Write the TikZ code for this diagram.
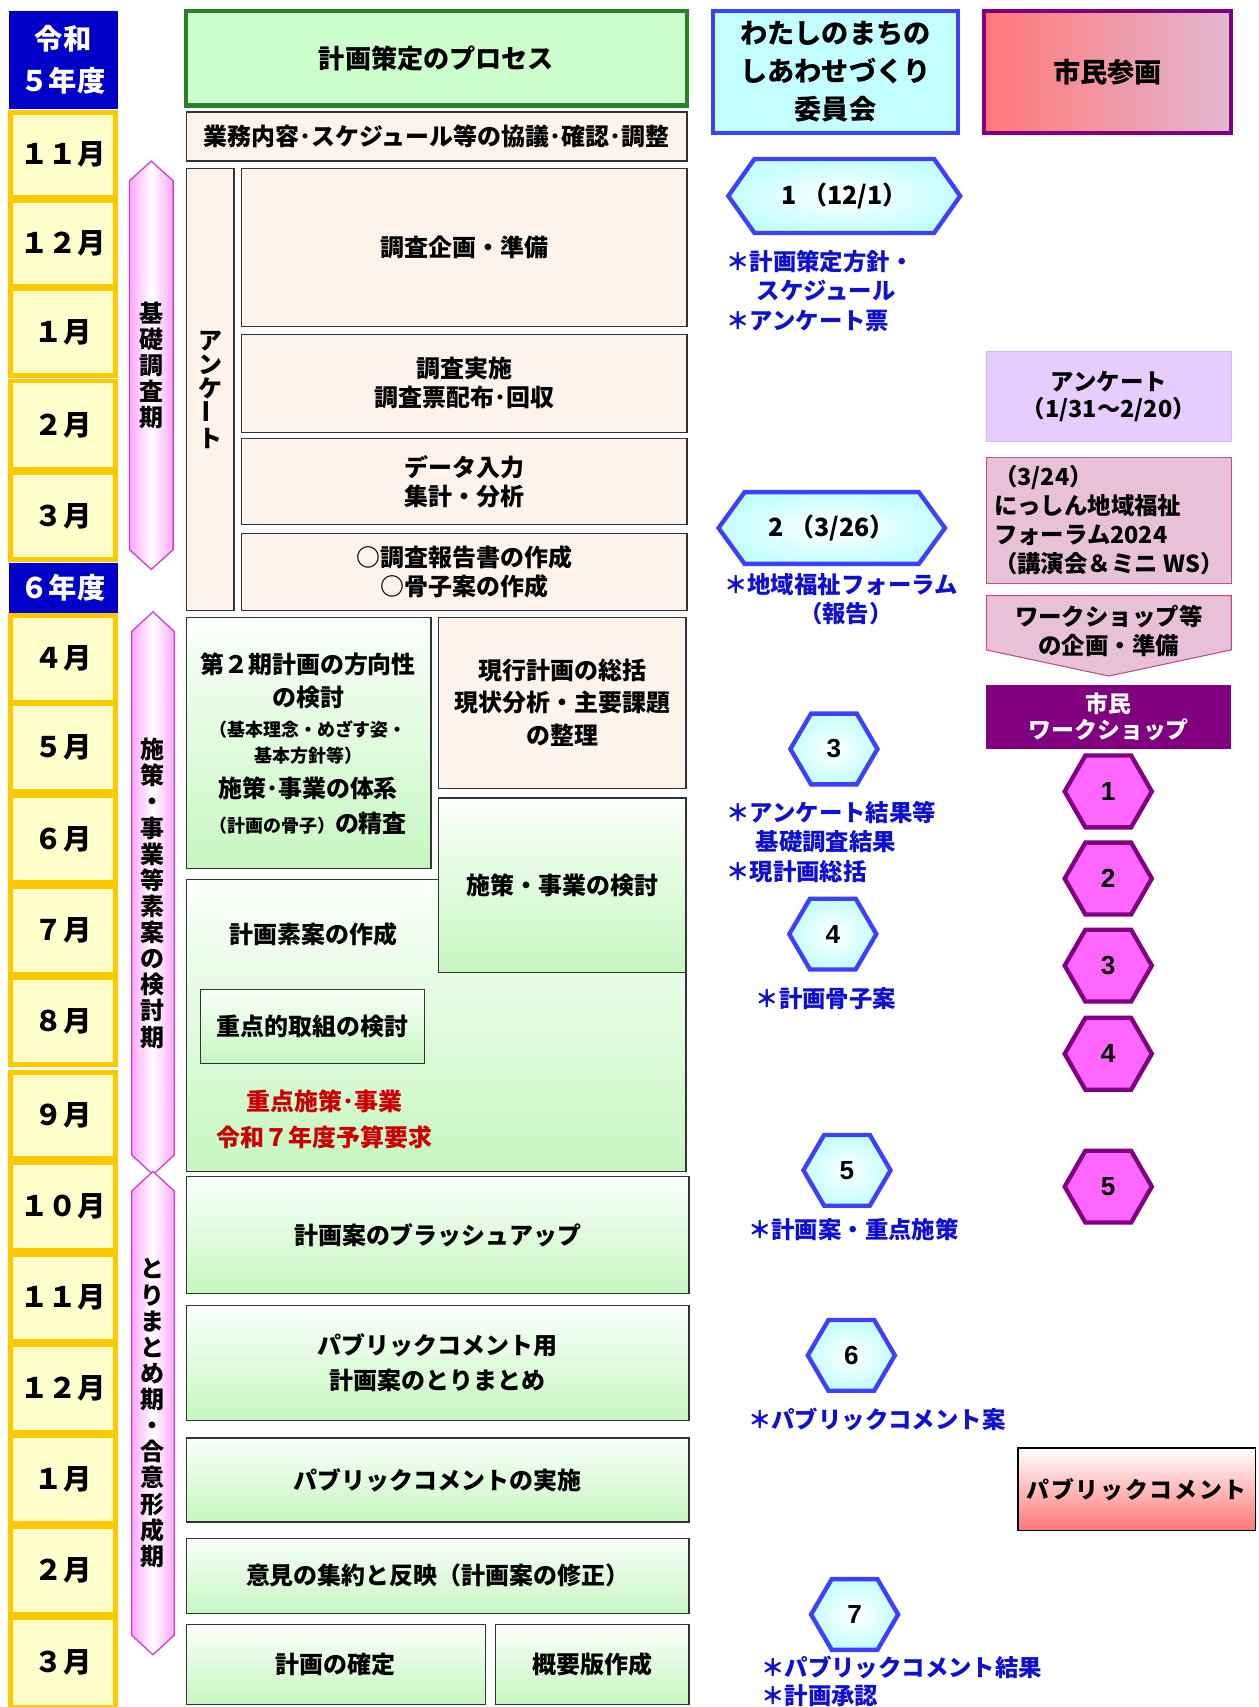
\documentclass[tikz,border=0pt]{standalone}
\usepackage{fontspec}
\usepackage{graphicx}
\setmainfont{Noto Sans CJK JP}
\newfontfamily\arialf{Liberation Sans}
\usetikzlibrary{calc}

\definecolor{mfill}{HTML}{FFFFCC}
\definecolor{mborder}{HTML}{FFC800}
\definecolor{navy}{HTML}{0000C8}
\definecolor{hgreen}{HTML}{CCFFCC}
\definecolor{hgreenb}{HTML}{2A7F2A}
\definecolor{peach}{HTML}{FDF3EB}
\definecolor{gtop}{HTML}{FAFFFA}
\definecolor{gbot}{HTML}{C6F7C0}
\definecolor{cblue}{HTML}{3F3FFF}
\definecolor{ccyan}{HTML}{C4FFFF}
\definecolor{purp}{HTML}{800080}
\definecolor{salmon}{HTML}{FF7777}
\definecolor{mauve}{HTML}{E3B8D0}
\definecolor{pedge}{HTML}{FFA8FF}
\definecolor{pline}{HTML}{D040D0}
\definecolor{lav}{HTML}{E6CCFF}
\definecolor{fpink}{HTML}{E8C0D8}
\definecolor{fpinkb}{HTML}{C05088}
\definecolor{hpink}{HTML}{FF66FF}
\definecolor{tblue}{HTML}{1010D0}
\definecolor{tred}{HTML}{CC0000}
\definecolor{boxline}{HTML}{333333}

\newcommand\fsz[2]{\fontsize{#1}{#2}\selectfont}
\newcommand\vbar{\rotatebox{90}{ー}}

\newcommand\bx[7]{%
  \pgfmathsetmacro\bxw{#4-#2}\pgfmathsetmacro\bxh{#5-#3}%
  \node[#6, minimum width=\bxw pt, minimum height=\bxh pt, inner sep=0pt, outer sep=0pt] (#1) at ({(#2+#4)/2},{(#3+#5)/2}) {#7};}

\newcommand\hexa[8]{%
  \path[#7] ({#2-#4},{#3}) -- ({#2-#4+#6},{#3-#5}) -- ({#2+#4-#6},{#3-#5}) -- ({#2+#4},{#3}) -- ({#2+#4-#6},{#3+#5}) -- ({#2-#4+#6},{#3+#5}) -- cycle;
  \node[hexnum] (#1) at (#2,#3) {#8};}

\newcommand\parrow[5]{%
  \path[parr] ({#2},{#3}) -- ({#2+#5},{#3+18}) -- ({#2+#5},{#4-18}) -- ({#2},{#4}) -- ({#2-#5},{#4-18}) -- ({#2-#5},{#3+18}) -- cycle;
  \coordinate (#1) at ({#2},{(#3+#4)/2});}

\tikzset{
  month/.style={draw=mborder, line width=4.5pt, fill=mfill, font=\bfseries\fsz{26}{30}},
  yearbox/.style={fill=navy, text=white, font=\bfseries\fsz{26}{38}, align=center},
  pbox/.style={draw=boxline, line width=1.2pt, fill=peach, align=center, font=\bfseries\fsz{22}{27}},
  gbox/.style={draw=boxline, line width=1.2pt, top color=gtop, bottom color=gbot, align=center, font=\bfseries\fsz{22}{27}},
  parr/.style={draw=pline, line width=1.2pt, left color=pedge, right color=pedge, middle color=white},
  vtxt/.style={align=center, font=\bfseries\fsz{22}{24}, inner sep=0pt},
  chex/.style={draw=cblue, line width=4pt, inner color=white, outer color=ccyan},
  phex/.style={draw=purp, line width=4pt, fill=hpink},
  hexnum/.style={font=\arialf\bfseries\fsz{24}{28}},
  note/.style={text=tblue, font=\bfseries\fsz{21.5}{26}, anchor=west, inner sep=0pt},
  txt/.style={font=\bfseries\fsz{22}{27}, inner sep=0pt, align=center},
  small/.style={font=\bfseries\fsz{16.5}{20}, inner sep=0pt, align=center},
}

\begin{document}
\begin{tikzpicture}[x=1pt, y=-1pt]
\useasboundingbox (0,0) rectangle (1156,1568);
\fill[white] (0,0) rectangle (1156,1568);

% ---- year / month column ----
\bx{y5}{8}{10}{108}{100}{yearbox}{令和\\５年度}
\bx{y6}{8}{517}{108}{563}{yearbox}{６年度}
\foreach \n/\t/\a/\b in {m1/１１月/103/181, m2/１２月/184/263, m3/１月/265/345, m4/２月/350/431, m5/３月/434/514,
  m6/４月/565/645, m7/５月/646/727, m8/６月/731/811, m9/７月/814/895, m10/８月/898/978, m11/９月/985/1064,
  m12/１０月/1068/1149, m13/１１月/1152/1232, m14/１２月/1235/1316, m15/１月/1319/1399, m16/２月/1402/1483, m17/３月/1486/1568}{
  \bx{\n}{10}{\a+2}{106}{\b-2}{month}{\t}
}

% ---- period arrows ----
\parrow{pa1}{139}{148}{523}{20}
\node[vtxt] (pt1) at (pa1) {基\\礎\\調\\査\\期};
\parrow{pa2}{140.5}{562}{1079}{19.5}
\parrow{pa3}{140.5}{1076}{1520}{19.5}
\node[vtxt] (pt2) at (pa2) {施\\策\\・\\事\\業\\等\\素\\案\\の\\検\\討\\期};
\node[vtxt] (pt3) at (pa3) {と\\り\\ま\\と\\め\\期\\・\\合\\意\\形\\成\\期};

% ---- process column ----
\bx{hdr}{171}{10}{631}{97}{draw=hgreenb, line width=4pt, fill=hgreen, font=\bfseries\fsz{24}{28}}{計画策定のプロセス}
\bx{gyomu}{171}{103}{631}{148}{pbox}{業務内容･スケジュール等の協議･確認･調整}
\bx{anq}{171}{155}{215}{561}{pbox, font=\bfseries\fsz{22}{22}}{ア\\ン\\ケ\\\vbar\\ト}
\bx{b1}{222}{155}{631}{300}{pbox}{調査企画・準備}
\bx{b2}{222}{307}{631}{397}{pbox}{調査実施\\調査票配布･回収}
\bx{b3}{222}{403}{631}{482}{pbox}{データ入力\\集計・分析}
\bx{b4}{222}{490}{631}{561}{pbox}{○調査報告書の作成\\○骨子案の作成}

\bx{b5}{171}{567}{396}{798}{gbox}{}
\node[txt] (b5a) at (283,610) {第２期計画の方向性};
\node[txt] (b5b) at (283,641) {の検討};
\node[small] (b5c) at (283,670) {（基本理念・めざす姿・};
\node[small] (b5d) at (283,694) {基本方針等）};
\node[txt] (b5e) at (283,724) {施策･事業の体系};
\node[txt] (b5f) at (283,756) {{\fsz{16.5}{20}（計画の骨子）}の精査};

\bx{b6}{403}{567}{630}{724}{pbox, font=\bfseries\fsz{22}{30}}{現行計画の総括\\現状分析・主要課題\\の整理}
\bx{b8}{171}{808}{630}{1076}{gbox}{}
\bx{b7}{403}{733}{630}{893}{gbox}{施策・事業の検討}
\node[txt] (b8a) at (288,858) {計画素案の作成};
\bx{b9}{184}{909}{390}{977}{gbox}{重点的取組の検討}
\node[txt, text=tred] (r1) at (298,1012) {重点施策･事業};
\node[txt, text=tred] (r2) at (298,1045) {令和７年度予算要求};

\bx{b10}{171}{1081}{633}{1188}{gbox}{計画案のブラッシュアップ}
\bx{b11}{171}{1199}{633}{1305}{gbox, font=\bfseries\fsz{22}{32}}{パブリックコメント用\\計画案のとりまとめ}
\bx{b12}{171}{1321}{633}{1398}{gbox}{パブリックコメントの実施}
\bx{b13}{171}{1413}{633}{1482}{gbox}{意見の集約と反映（計画案の修正）}
\bx{b14}{171}{1492}{446}{1566}{gbox}{計画の確定}
\bx{b15}{455}{1492}{633}{1566}{gbox}{概要版作成}

% ---- committee column ----
\bx{iin}{655}{10}{880}{122}{draw=cblue, line width=4pt, fill=ccyan, align=center, font=\bfseries\fsz{25}{35}}{わたしのまちの\\しあわせづくり\\委員会}
\hexa{c1}{775.5}{180}{106.5}{34}{24}{chex}{\rmfamily\bfseries\fsz{23}{26}1 （12/1）}
\node[note] (n1a) at (667,240) {＊計画策定方針・};
\node[note] (n1b) at (695,267) {スケジュール};
\node[note] (n1c) at (667,295) {＊アンケート票};
\hexa{c2}{764}{485}{104}{33}{24}{chex}{\rmfamily\bfseries\fsz{23}{26}2 （3/26）}
\node[note] (n2a) at (665,537) {＊地域福祉フォーラム};
\node[note, anchor=center] (n2b) at (777,564) {（報告）};
\hexa{c3}{766}{688}{40}{32.5}{19}{chex}{3}
\node[note] (n3a) at (667,746) {＊アンケート結果等};
\node[note] (n3b) at (694,773) {基礎調査結果};
\node[note] (n3c) at (667,801) {＊現計画総括};
\hexa{c4}{765}{858}{40}{32.5}{19}{chex}{4}
\node[note] (n4a) at (694,917) {＊計画骨子案};
\hexa{c5}{778}{1075}{40}{32.5}{19}{chex}{5}
\node[note] (n5a) at (687,1129) {＊計画案・重点施策};
\hexa{c6}{782}{1245}{40}{32.5}{19}{chex}{6}
\node[note] (n6a) at (687,1304) {＊パブリックコメント案};
\hexa{c7}{785}{1483}{40}{32.5}{19}{chex}{7}
\node[note] (n7a) at (699,1532) {＊パブリックコメント結果};
\node[note] (n7b) at (699,1558) {＊計画承認};

% ---- citizen column ----
\bx{shimin}{904}{10}{1131}{122}{draw=purp, line width=4pt, left color=salmon, right color=mauve, font=\bfseries\fsz{25}{30}}{市民参画}
\bx{cq}{906}{323}{1131}{405}{fill=lav, draw=lav!80!gray, line width=0.5pt, align=center, font=\bfseries\fsz{21.5}{25}}{アンケート\\（1/31～2/20）}
\bx{cf}{906}{420}{1131}{536}{fill=fpink, draw=fpinkb, line width=1pt, align=left, font=\bfseries\fsz{21.5}{26.7}}{（3/24）\\にっしん地域福祉\\フォーラム2024\\（講演会＆ミニ WS）}
\path[fill=fpink, draw=fpinkb, line width=1pt] (906,547) -- (1131,547) -- (1131,597) -- (1018.5,621) -- (906,597) -- cycle;
\node[txt, font=\bfseries\fsz{21.5}{27}] (cw) at (1018.5,579.5) {ワークショップ等\\の企画・準備};
\bx{cws}{906}{629}{1131}{688}{fill=purp, text=white, align=center, font=\bfseries\fsz{21}{23}}{市民\\ワークショップ}
\hexa{p1}{1018}{727}{40}{33}{19}{phex}{1}
\hexa{p2}{1018}{807}{40}{33}{19}{phex}{2}
\hexa{p3}{1018}{887}{40}{33}{19}{phex}{3}
\hexa{p4}{1018}{968}{40}{33}{19}{phex}{4}
\hexa{p5}{1018}{1090}{40}{33}{19}{phex}{5}
\bx{pc}{935}{1330}{1153}{1406}{draw=black, line width=1.2pt, top color=white, bottom color=salmon, font=\bfseries\fsz{21}{25}\addfontfeatures{LetterSpace=8}}{パブリックコメント}
\end{tikzpicture}
\end{document}
